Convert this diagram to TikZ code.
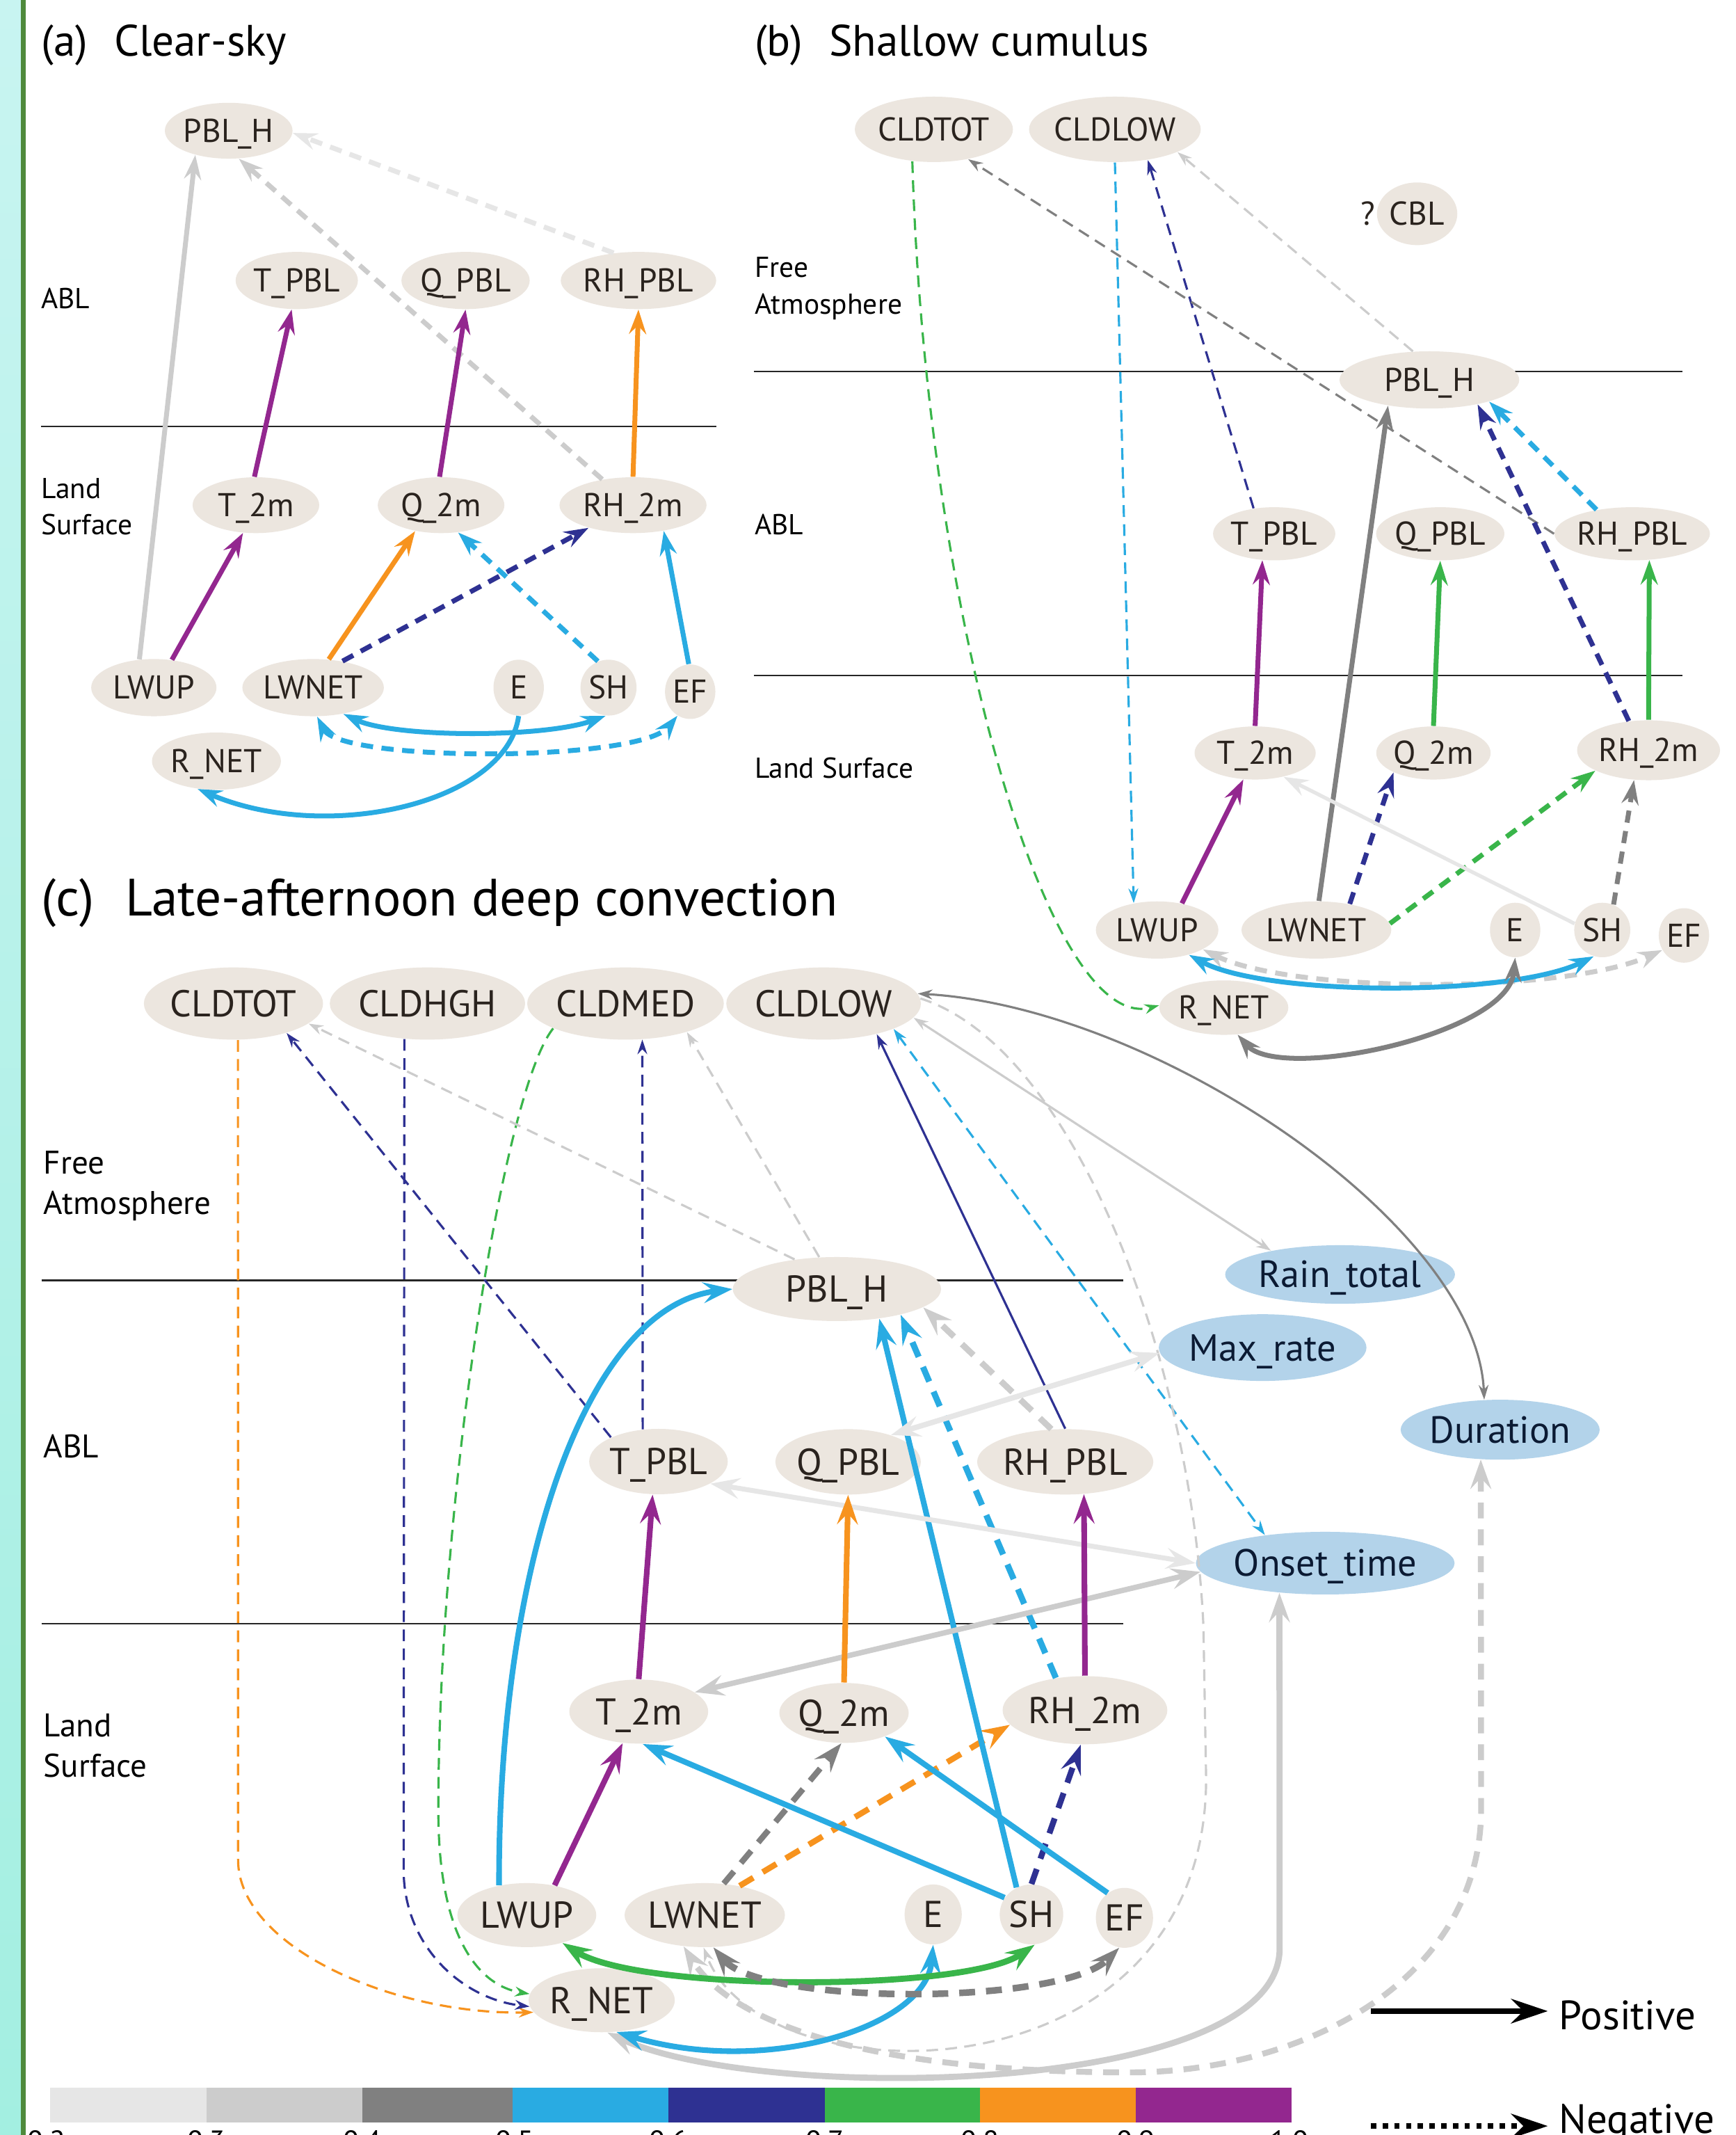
\documentclass[tikz,border=0pt]{standalone}
\usepackage{fontspec}
\setmainfont{PT Sans}
\usetikzlibrary{shapes.geometric,arrows.meta}
\definecolor{cA}{HTML}{E6E6E6}
\definecolor{cB}{HTML}{CCCCCC}
\definecolor{cC}{HTML}{808080}
\definecolor{cD}{HTML}{29ABE2}
\definecolor{cE}{HTML}{2E3192}
\definecolor{cF}{HTML}{39B54A}
\definecolor{cG}{HTML}{F7931E}
\definecolor{cH}{HTML}{93278F}
\definecolor{nodebg}{HTML}{ECE6DF}
\definecolor{nodetx}{HTML}{2A231E}
\definecolor{bluebg}{HTML}{B3D3EA}
\definecolor{bluetx}{HTML}{0B1A33}
\definecolor{stripT}{HTML}{C8F4F1}
\definecolor{stripB}{HTML}{A3EFE1}
\definecolor{stripG}{HTML}{4F8A3C}
\tikzset{
  sz/.style 2 args={minimum width=#1*0.5577pt, minimum height=#2*0.5577pt},
  nda/.style={ellipse, fill=nodebg, inner sep=0pt, text=nodetx, font=\fontsize{13.5}{14}\selectfont, text height=9.4pt, text depth=0pt},
  ndc/.style={nda, font=\fontsize{15.3}{16}\selectfont, text height=10.7pt},
  ndb/.style={ndc, fill=bluebg, text=bluetx, font=\fontsize{15.5}{16}\selectfont, text height=10.8pt},
  lbla/.style={anchor=west, align=left, inner sep=0pt, font=\fontsize{11.8}{15}\selectfont},
  lblc/.style={anchor=west, align=left, inner sep=0pt, font=\fontsize{13.4}{16.5}\selectfont},
  ttl/.style={anchor=west, inner sep=0pt, font=\fontsize{18}{20}\selectfont},
  sect/.style={line width=0.6pt, black!85},
  tipa/.tip={Stealth[length=10pt,width=7pt,inset=3.5pt]},
  tipc/.tip={Stealth[length=12pt,width=8.5pt,inset=4.5pt]},
  tipn/.tip={Stealth[length=6pt,width=4pt,inset=2pt]},
  ek/.style={line width=2pt, -tipa},
  ekk/.style={line width=2pt, tipa-tipa},
  ekc/.style={line width=2.3pt, -tipc},
  ekkc/.style={line width=2.3pt, tipc-tipc},
  en/.style={line width=0.9pt, -tipn},
  enn/.style={line width=0.9pt, tipn-tipn},
  dk/.style={dash pattern=on 5pt off 3.5pt},
  dkc/.style={dash pattern=on 6.5pt off 4.5pt},
  dn/.style={dash pattern=on 4.8pt off 3pt},
}
\begin{document}
\begin{tikzpicture}[x=0.5577pt,y=-0.5577pt]
\useasboundingbox (0,0) rectangle (1275,1568);
\fill[white] (0,0) rectangle (1275,1568);
\shade[top color=stripT,bottom color=stripB] (0,0) rectangle (15.5,1568);
\fill[stripG] (15.5,0) rectangle (19,1568);

% ---------------- panel (a) ----------------
\node[ttl] (ta) at (30,33) {(a)\hspace{0.6em}Clear-sky};
\draw[sect] (30,313) -- (526,313);
\node[lbla] (aABL) at (30,219) {ABL};
\node[lbla] (aLS) at (30,372) {Land\\Surface};
\node[nda,sz={93}{41}] (aPBLH) at (168,96) {PBL\_H};
\node[nda,sz={83}{42}] (aTPBL) at (218,206) {T\_PBL};
\node[nda,sz={83}{42}] (aQPBL) at (342,206) {Q\_PBL};
\node[nda,sz={103}{42}] (aRHPBL) at (469,206) {RH\_PBL};
\node[nda,sz={93}{41}] (aT2m) at (188,371) {T\_2m};
\node[nda,sz={93}{41}] (aQ2m) at (324,371) {Q\_2m};
\node[nda,sz={108}{41}] (aRH2m) at (465,371) {RH\_2m};
\node[nda,sz={92}{42}] (aLWUP) at (113,505) {LWUP};
\node[nda,sz={92}{42}] (aLWNET) at (230,505) {LWNET};
\node[nda,sz={37}{41}] (aE) at (381,505) {E};
\node[nda,sz={38}{41}] (aSH) at (447,505) {SH};
\node[nda,sz={37}{40}] (aEF) at (507,508) {EF};
\node[nda,sz={92}{42}] (aRNET) at (159,559) {R\_NET};

\draw[cB, ek] (aLWUP.117) -- (aPBLH.216);
\draw[cA, ek, dk] (aRHPBL.132) -- (aPBLH.-2);
\draw[cB, ek, dk] (aRH2m.140) -- (aPBLH.290);
\draw[cH, ek] (aT2m.93) -- (aTPBL.260);
\draw[cH, ek] (aQ2m.93) -- (aQPBL.270);
\draw[cG, ek] (aRH2m.90) -- (aRHPBL.270);
\draw[cH, ek] (aLWUP.57) -- (aT2m.245);
\draw[cG, ek] (aLWNET.61) -- (aQ2m.225);
\draw[cE, ek, dk] (aLWNET.42) -- (aRH2m.207);
\draw[cD, ek, dk] (aSH.112) -- (aQ2m.302);
\draw[cD, ek] (aEF.93) -- (aRH2m.320);
\draw[cD, ekk, dk] (aLWNET.278) .. controls (250,560) and (470,560) .. (aEF.242);
\draw[cD, ekk] (aLWNET.319) .. controls (290,542) and (400,542) .. (aSH.264);
\draw[cD, ek] (aE.270) .. controls (372,590) and (240,620) .. (aRNET.236);

% ---------------- panel (b) ----------------
\node[ttl] (tb) at (554,33) {(b)\hspace{0.6em}Shallow cumulus};
\draw[sect] (554,273) -- (1236,273);
\draw[sect] (554,496) -- (1236,496);
\node[lbla] (bFA) at (554,212) {Free\\Atmosphere};
\node[lbla] (bABL) at (554,385) {ABL};
\node[lbla] (bLS) at (554,564) {Land Surface};
\node[nda,sz={116}{48}] (bCLDTOT) at (686,95) {CLDTOT};
\node[nda,sz={116}{48}] (bCLDLOW) at (819,95) {CLDLOW};
\node[nda,sz={59}{46}] (bCBL) at (1041,157) {CBL};
\node[inner sep=0pt, font=\fontsize{13.5}{14}\selectfont, text=nodetx] (bQ) at (1005,157) {?};
\node[nda,sz={132}{42}] (bPBLH) at (1050,279) {PBL\_H};
\node[nda,sz={82}{39}] (bTPBL) at (936,392) {T\_PBL};
\node[nda,sz={80}{39}] (bQPBL) at (1058,392) {Q\_PBL};
\node[nda,sz={100}{39}] (bRHPBL) at (1199,392) {RH\_PBL};
\node[nda,sz={89}{39}] (bT2m) at (922,553) {T\_2m};
\node[nda,sz={84}{39}] (bQ2m) at (1053,553) {Q\_2m};
\node[nda,sz={105}{44}] (bRH2m) at (1211,551) {RH\_2m};
\node[nda,sz={90}{42}] (bLWUP) at (850,683) {LWUP};
\node[nda,sz={110}{42}] (bLWNET) at (967,683) {LWNET};
\node[nda,sz={37}{40}] (bE) at (1113,683) {E};
\node[nda,sz={36}{40}] (bSH) at (1177,683) {SH};
\node[nda,sz={37}{40}] (bEF) at (1237,687) {EF};
\node[nda,sz={84}{40}] (bRNET) at (899,740) {R\_NET};

\draw[cF, en, dn] (bCLDTOT.236) .. controls (680,450) and (770,760) .. (bRNET.178);
\draw[cD, en, dn] (bCLDLOW.270) -- (bLWUP.131);
\draw[cE, en, dn] (bTPBL.129) -- (bCLDLOW.317);
\draw[cB, en, dn] (bPBLH.120) -- (bCLDLOW.340);
\draw[cC, en, dn] (bRHPBL.180) -- (bCLDTOT.319);
\draw[cC, ek] (bLWNET.85) -- (bPBLH.212);
\draw[cE, ek, dk] (bRH2m.124) -- (bPBLH.333);
\draw[cD, ek, dk] (bRHPBL.146) -- (bPBLH.340);
\draw[cH, ek] (bT2m.90) -- (bTPBL.246);
\draw[cF, ek] (bQ2m.90) -- (bQPBL.270);
\draw[cF, ek] (bRH2m.90) -- (bRHPBL.303);
\draw[cH, ek] (bLWUP.47) -- (bT2m.246);
\draw[cE, ek, dk] (bLWNET.38) -- (bQ2m.206);
\draw[cF, ek, dk] (bLWNET.5) -- (bRH2m.201);
\draw[cA, ek, line width=1.5pt] (bSH.167) -- (bT2m.320);
\draw[cC, ek, dk] (bSH.66) -- (bRH2m.244);
\draw[cB, ekk, dk] (bLWUP.337) .. controls (950,730) and (1150,730) .. (bEF.214);
\draw[cD, ekk] (bLWUP.322) .. controls (930,732) and (1110,732) .. (bSH.252);
\draw[cC, ekk] (bE.270) .. controls (1108,760) and (940,795) .. (bRNET.297);

% ---------------- panel (c) ----------------
\node[ttl, font=\fontsize{21.5}{24}\selectfont] (tc) at (30,663) {(c)\hspace{0.6em}Late-afternoon deep convection};
\draw[sect] (30.5,940.3) -- (825,940.3);
\draw[sect] (30.5,1192.3) -- (825,1192.3);
\node[lblc] (cFA) at (31.8,871) {Free\\Atmosphere};
\node[lblc] (cABL) at (31.8,1062) {ABL};
\node[lblc] (cLS) at (31.8,1282) {Land\\Surface};
\node[ndc,sz={131}{53}] (cCLDTOT) at (171.5,737) {CLDTOT};
\node[ndc,sz={131}{53}] (cCLDHGH) at (314,737) {CLDHGH};
\node[ndc,sz={131}{53}] (cCLDMED) at (459.5,737) {CLDMED};
\node[ndc,sz={132}{53}] (cCLDLOW) at (605,737) {CLDLOW};
\node[ndc,sz={153}{47}] (cPBLH) at (614.8,946.7) {PBL\_H};
\node[ndb,sz={159}{43}] (cRain) at (984.4,936) {Rain\_total};
\node[ndb,sz={128}{49}] (cMax) at (927.5,989.7) {Max\_rate};
\node[ndb,sz={141}{44}] (cDur) at (1102,1050) {Duration};
\node[ndc,sz={91}{48}] (cTPBL) at (483.7,1073.4) {T\_PBL};
\node[ndc,sz={92}{48}] (cQPBL) at (623,1073.6) {Q\_PBL};
\node[ndc,sz={113}{48}] (cRHPBL) at (782.5,1073.6) {RH\_PBL};
\node[ndb,sz={167}{46}] (cOnset) at (973.5,1148) {Onset\_time};
\node[ndc,sz={102}{47}] (cT2m) at (469.2,1257) {T\_2m};
\node[ndc,sz={94}{44}] (cQ2m) at (620,1258) {Q\_2m};
\node[ndc,sz={121}{50}] (cRH2m) at (797,1256) {RH\_2m};
\node[ndc,sz={102}{47}] (cLWUP) at (387,1406.5) {LWUP};
\node[ndc,sz={102}{47}] (cLWNET) at (517.7,1406.5) {LWNET};
\node[ndc,sz={42}{44}] (cE) at (685.5,1406) {E};
\node[ndc,sz={42}{44}] (cSH) at (757.7,1406) {SH};
\node[ndc,sz={42}{44}] (cEF) at (826,1408.5) {EF};
\node[ndc,sz={94.5}{47}] (cRNET) at (442,1469) {R\_NET};

\draw[cG, en, dn] (cCLDTOT.277) -- (174.9,1366) .. controls (175,1430) and (290,1480) .. (cRNET.190);
\draw[cE, en, dn] (cCLDHGH.237) -- (296.5,1374) .. controls (297,1430) and (340,1468) .. (cRNET.185);
\draw[cF, en, dn] (cCLDMED.199) .. controls (370,800) and (322,1100) .. (322,1330) .. controls (322,1420) and (350,1458) .. (cRNET.175);
\draw[cE, en, dn] (cTPBL.153) -- (cCLDTOT.331);
\draw[cE, en, dn] (cTPBL.116) -- (cCLDMED.295);
\draw[cB, en, dn] (cPBLH.145) -- (cCLDTOT.345);
\draw[cB, en, dn] (cPBLH.119) -- (cCLDMED.335);
\draw[cE, en] (cRHPBL.90) -- (cCLDLOW.330);
\draw[cD, enn, dn] (cCLDLOW.340) -- (cOnset.155);
\draw[cC, enn] (cCLDLOW.6) .. controls (850,740) and (1085,900) .. (cDur.118);
\draw[cB, enn] (cCLDLOW.351) -- (cRain.161);
\draw[cB, en, dn] (cCLDLOW.3) .. controls (790,770) and (875,1000) .. (884,1194) -- (886,1306) .. controls (886,1545) and (560,1545) .. (cLWNET.268);
\draw[cB, ekkc, dkc, line width=2.4pt] (cDur.237) -- (1088,1332) .. controls (1085,1460) and (950,1522) .. (830,1522) .. controls (650,1522) and (540,1490) .. (cLWNET.236);
\draw[cB, ekkc, line width=2.5pt] (cOnset.213) -- (940,1431) .. controls (940,1540) and (560,1545) .. (cRNET.280);
\draw[cD, ekkc] (cE.270) .. controls (680,1490) and (560,1525) .. (cRNET.295);
\draw[cF, ekkc, line width=2.5pt] (cLWUP.322) .. controls (470,1463) and (710,1463) .. (cSH.276);
\draw[cC, ekkc, dkc, line width=2.7pt] (cLWNET.285) .. controls (560,1473) and (780,1473) .. (cEF.260);
\draw[cC, ekc, dkc, line width=2.4pt] (cLWNET.59) -- (cQ2m.265);
\draw[cG, ekc, dkc, line width=2.4pt] (cLWNET.40) -- (cRH2m.191);
\draw[cE, ekc, dkc, line width=2.4pt] (cSH.90) -- (cRH2m.263);
\draw[cD, ekc] (cSH.148) -- (cT2m.277);
\draw[cD, ekc] (cEF.124) -- (cQ2m.330);
\draw[cD, ekc] (cSH.119) -- (cPBLH.325);
\draw[cD, ekc, dkc, line width=2.5pt] (cRH2m.132) -- (cPBLH.338);
\draw[cB, ekc, dkc, line width=2.5pt] (cRHPBL.113) -- (cPBLH.348);
\draw[cA, ekkc, line width=2.2pt] (cQPBL.32) -- (cMax.183);
\draw[cA, ekkc, line width=2pt] (cOnset.180) -- (cTPBL.337);
\draw[cB, ekkc, line width=2.2pt] (cOnset.184) -- (cT2m.19);
\draw[cH, ekc] (cLWUP.47) -- (cT2m.243);
\draw[cH, ekc] (cT2m.90) -- (cTPBL.260);
\draw[cG, ekc] (cQ2m.90) -- (cQPBL.270);
\draw[cH, ekc] (cRH2m.90) -- (cRHPBL.300);
\draw[cD, ekc] (cLWUP.133) .. controls (366,1150) and (430,960) .. (cPBLH.180);

% ---------------- legend ----------------
\coordinate (posA) at (1007,1477);
\coordinate (posB) at (1137,1477);
\coordinate (negA) at (1007,1561.4);
\coordinate (negB) at (1137,1561.4);
\draw[line width=2.4pt, -{Stealth[length=15pt,width=10pt,inset=5pt]}] (posA) -- (posB);
\draw[line width=2.4pt, dash pattern=on 2.2pt off 2.6pt, -{Stealth[length=15pt,width=10pt,inset=5pt]}] (negA) -- (negB);
\node[anchor=base west, inner sep=0pt, font=\fontsize{16.8}{18}\selectfont] (posT) at (1145,1490.8) {Positive};
\node[anchor=base west, inner sep=0pt, font=\fontsize{16.8}{18}\selectfont] (negT) at (1145,1566.7) {Negative};

% ---------------- colour bar ----------------
\foreach \xa/\xb/\cc in {37/151.6/cA,151.6/266/cB,266/376.3/cC,376.3/490.8/cD,490.8/606/cE,606/719.8/cF,719.8/834.4/cG,834.4/948.9/cH}
  \fill[\cc] (\xa,1533) rectangle (\xb,1559);
\foreach \xx/\lab [count=\i] in {34/0.2,151.6/0.3,266/0.4,378/0.5,490.8/0.6,606/0.7,719.8/0.8,834.4/0.9,947/1.0}
  \node[anchor=north, inner sep=0pt, font=\fontsize{12}{13}\selectfont] (cbl\i) at (\xx,1564.5) {\lab};
\end{tikzpicture}
\end{document}
